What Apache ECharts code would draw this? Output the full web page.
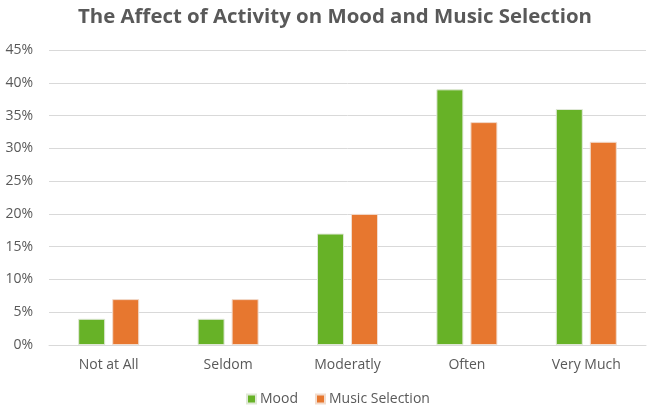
<!DOCTYPE html>
<html><head><meta charset="utf-8">
<script src="https://cdn.jsdelivr.net/npm/echarts@6/dist/echarts.min.js"></script>
<style>html,body{margin:0;padding:0;background:#fff}#c{width:652px;height:412px}</style>
</head><body><div id="c"></div>
<script>
const categories = ['Not at All', 'Seldom', 'Moderatly', 'Often', 'Very Much'];
const mood = [4, 4, 17, 39, 36];
const musicSelection = [7, 7, 20, 34, 31];
const yTicks = [0, 5, 10, 15, 20, 25, 30, 35, 40, 45];

const chart = echarts.init(document.getElementById('c'));
const txt = '#595959';
chart.setOption({
  animation: false,
  title: {
    text: 'The Affect of Activity on Mood and Music Selection',
    left: 73, top: 2,
    textStyle: {fontFamily: 'Open Sans', fontWeight: 'bold', fontSize: 20.4, color: txt}
  },
  legend: {
    bottom: 1, left: 241,
    itemWidth: 9, itemHeight: 9, itemGap: 17,
    icon: 'rect',
    textStyle: {fontFamily: 'Open Sans', fontSize: 14, color: txt, padding: [0,0,0,-1]},
    data: ['Mood', 'Music Selection']
  },
  grid: {left: 49, right: 6, top: 50, bottom: 67, containLabel: false},
  xAxis: {
    type: 'category', data: categories,
    axisLine: {lineStyle: {color: '#d9d9d9', width: 1}},
    axisTick: {show: false},
    axisLabel: {fontFamily: 'Open Sans', fontSize: 14, color: txt, margin: 13}
  },
  yAxis: {
    type: 'value', min: yTicks[0], max: yTicks[yTicks.length-1], interval: 5,
    axisLabel: {fontFamily: 'Open Sans', fontSize: 14, color: txt, formatter: v => v + '%', margin: 16},
    splitLine: {lineStyle: {color: '#d9d9d9', width: 1}},
    axisLine: {show: false}, axisTick: {show: false}
  },
  series: [
    {name: 'Mood', type: 'bar', data: mood, barWidth: 27, barGap: '26%',
     itemStyle: {color: '#67B227', borderColor: '#dfe8d6', borderWidth: 1}},
    {name: 'Music Selection', type: 'bar', data: musicSelection, barWidth: 27,
     itemStyle: {color: '#E7772F', borderColor: '#f2dccd', borderWidth: 1}}
  ]
});
</script></body></html>
